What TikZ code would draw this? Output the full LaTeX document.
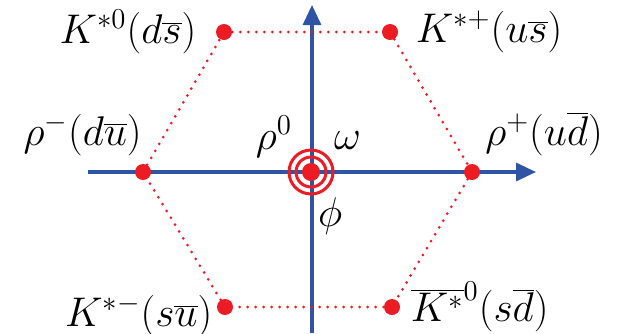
\documentclass[tikz,border=0pt]{standalone}
\usetikzlibrary{positioning, arrows.meta}
\definecolor{axisblue}{RGB}{47,84,166}
\definecolor{dotred}{RGB}{236,28,36}

\begin{document}
\begin{tikzpicture}[
  x=0.5pt, y=-0.5pt,
  every node/.style={font=\fontsize{19.5}{22}\selectfont, inner sep=0pt},
  meson/.style={circle, fill=dotred, minimum size=8pt},
  axis/.style={draw=axisblue, line width=1.6pt, -{Triangle[length=10pt, width=9pt]}},
  hexline/.style={draw=dotred, line width=1.5pt, line cap=round, dash pattern=on 0pt off 4pt},
  ring/.style={draw=dotred, line width=1.5pt},
]
\useasboundingbox (0,0) rectangle (619,333);
% axes
\coordinate (xl) at (88,172);
\coordinate (xr) at (536,172);
\coordinate (yb) at (312,333);
\coordinate (yt) at (312,5);
\draw[axis] (xl) -- (xr);
\draw[axis] (yb) -- (yt);
% nonet
\node[meson] (kz) at (224,32) {};
\node[meson] (kp) at (390,32) {};
\node[meson] (rm) at (143,172) {};
\node[meson] (rp) at (472,172) {};
\node[meson] (km) at (225,307) {};
\node[meson] (kb) at (392,307) {};
\node[meson, minimum size=9pt] (c) at (311,172) {};
\draw[ring] (c) circle (7.5pt);
\draw[ring] (c) circle (11pt);
\draw[hexline] (rm) -- (kz) -- (kp) -- (rp) -- (kb) -- (km) -- (rm);
% labels
\node[left=9.5pt of kz] (kzlbl) {$K^{*0}(d\overline{s})$};
\node[right=8.5pt of kp] (kplbl) {$K^{*+}(u\overline{s})$};
\node[above left=5pt and -2.5pt of rm] (rmlbl) {$\rho^-(d\overline{u})$};
\node[above right=5pt and 3.5pt of rp] (rplbl) {$\rho^+(u\overline{d})$};
\node[left=2pt of km, yshift=-4.5pt] (kmlbl) {$K^{*-}(s\overline{u})$};
\node[right=5pt of kb] (kblbl) {$\overline{K^*}^0(s\overline{d})$};
\node[above left=3.5pt and 6pt of c] (rzlbl) {$\rho^0$};
\node[above right=7.5pt and 8pt of c] (omlbl) {$\omega$};
\node[below right=9.5pt and 0pt of c] (philbl) {$\phi$};
\end{tikzpicture}
\end{document}
